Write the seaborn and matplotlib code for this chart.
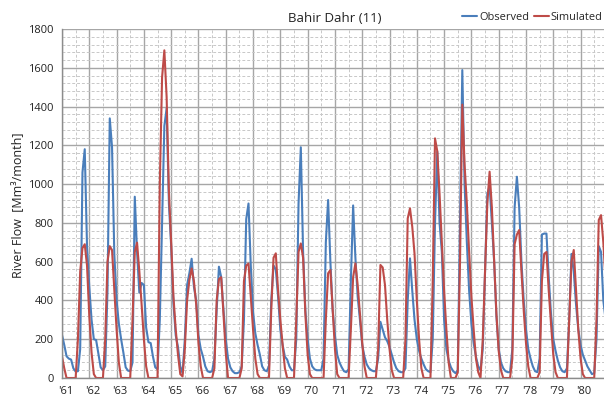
import numpy as np
import pandas as pd
import matplotlib
matplotlib.use("Agg")
import matplotlib.pyplot as plt
import seaborn as sns
from matplotlib.ticker import MultipleLocator, FixedLocator, FixedFormatter
from matplotlib.transforms import ScaledTranslation

# ---------------- data (monthly, Jan 1961 onwards) ----------------
year_labels = ["'%d" % y for y in range(61, 81)]

observed = [
    222, 170, 112, 100, 95, 50, 33, 35, 150, 1060, 1180, 680,     # 1961
    470, 300, 200, 196, 127, 55, 40, 60, 450, 1339, 1190, 640,    # 1962
    400, 280, 200, 130, 55, 38, 35, 80, 935, 650, 440, 490,       # 1963
    480, 260, 185, 180, 110, 55, 45, 300, 800, 1300, 1390, 900,   # 1964
    680, 385, 220, 160, 60, 25, 200, 480, 540, 615, 470, 400,     # 1965
    220, 150, 110, 60, 35, 30, 35, 100, 350, 574, 520, 350,       # 1966
    200, 100, 55, 35, 25, 25, 30, 60, 300, 820, 900, 580,         # 1967
    340, 230, 170, 120, 60, 40, 35, 60, 400, 580, 560, 420,       # 1968
    250, 170, 110, 95, 60, 40, 40, 200, 900, 1190, 650, 350,      # 1969
    200, 100, 60, 45, 40, 40, 40, 100, 700, 918, 600, 350,        # 1970
    220, 120, 80, 55, 35, 30, 45, 500, 890, 620, 420, 300,        # 1971
    170, 110, 70, 50, 40, 35, 35, 100, 290, 250, 210, 190,        # 1972
    160, 120, 80, 50, 35, 30, 30, 50, 400, 617, 450, 300,         # 1973
    200, 140, 100, 70, 45, 35, 30, 200, 800, 1167, 800, 650,      # 1974
    300, 150, 90, 55, 35, 25, 40, 800, 1588, 1000, 700, 450,      # 1975
    280, 180, 110, 60, 40, 150, 550, 950, 990, 800, 600, 320,     # 1976
    150, 80, 50, 35, 30, 30, 150, 880, 1038, 880, 600, 400,       # 1977
    250, 150, 100, 60, 35, 30, 100, 740, 745, 745, 520, 330,      # 1978
    200, 140, 90, 55, 35, 30, 50, 300, 640, 550, 380, 250,        # 1979
    170, 120, 90, 60, 40, 20, 25, 200, 680, 650, 400, 300,        # 1980
]

simulated = [
    112, 50, 0, 0, 0, 0, 0, 200, 550, 670, 690, 580,              # 1961
    320, 130, 20, 0, 0, 0, 0, 200, 600, 680, 660, 450,            # 1962
    250, 80, 0, 0, 0, 0, 0, 300, 650, 698, 550, 380,              # 1963
    200, 60, 0, 0, 0, 0, 0, 1000, 1550, 1690, 1450, 960,          # 1964
    700, 420, 250, 120, 20, 8, 150, 400, 505, 565, 500, 380,      # 1965
    180, 60, 0, 0, 0, 0, 0, 50, 400, 510, 520, 330,               # 1966
    130, 0, 0, 0, 0, 0, 0, 50, 500, 580, 590, 420,                # 1967
    250, 100, 20, 0, 0, 0, 0, 0, 350, 620, 643, 450,              # 1968
    300, 170, 50, 0, 0, 0, 0, 300, 650, 694, 620, 330,            # 1969
    120, 20, 0, 0, 0, 0, 0, 0, 300, 540, 557, 350,                # 1970
    150, 20, 0, 0, 0, 0, 0, 250, 520, 591, 480, 330,              # 1971
    180, 60, 0, 0, 0, 0, 0, 150, 583, 570, 480, 300,              # 1972
    150, 40, 0, 0, 0, 0, 0, 200, 823, 875, 780, 640,              # 1973
    400, 200, 50, 0, 0, 0, 0, 500, 1236, 1170, 950, 700,          # 1974
    450, 250, 80, 0, 0, 0, 30, 600, 1410, 1100, 900, 650,         # 1975
    420, 250, 100, 30, 0, 200, 550, 900, 1064, 880, 600, 330,     # 1976
    140, 40, 0, 0, 0, 0, 100, 690, 740, 763, 550, 350,            # 1977
    180, 60, 0, 0, 0, 0, 30, 500, 640, 650, 450, 280,             # 1978
    120, 30, 0, 0, 0, 0, 0, 300, 600, 660, 450, 250,              # 1979
    100, 20, 0, 0, 0, 0, 0, 300, 815, 840, 700, 500,              # 1980
]

series_names = ["Observed", "Simulated"]
series_colors = {"Observed": "#4A7EBB", "Simulated": "#BE4B48"}

months = np.arange(len(observed))
df = pd.DataFrame({
    "month": np.concatenate([months, np.arange(len(simulated))]),
    "flow": observed + simulated,
    "series": ["Observed"] * len(observed) + ["Simulated"] * len(simulated),
})

# ---------------- figure ----------------
sns.set_style("white")
plt.rcParams["font.family"] = ["Open Sans", "DejaVu Sans"]

W, H = 604, 398
fig = plt.figure(figsize=(W / 100, H / 100), dpi=100)
ax = fig.add_axes([62 / W, 1 - 378 / H, (604 - 62) / W, (378 - 29) / H])

sns.lineplot(data=df, x="month", y="flow", hue="series", hue_order=series_names,
             palette=series_colors, linewidth=1.5, ax=ax, legend=True)

ax.set_xlim(0, 238.3)
ax.set_ylim(0, 1800)

ax.xaxis.set_major_locator(FixedLocator(np.arange(0, 12 * len(year_labels), 12)))
ax.xaxis.set_major_formatter(FixedFormatter(year_labels))
ax.xaxis.set_minor_locator(MultipleLocator(6))
ax.yaxis.set_major_locator(MultipleLocator(200))
ax.yaxis.set_minor_locator(MultipleLocator(40))

ax.set_axisbelow(True)
ax.grid(which="major", color="#a6a6a6", linewidth=1.0, linestyle="-")
ax.grid(which="minor", color="#c8c8c8", linewidth=0.7, linestyle=(0, (3, 2)))

for s in ["top", "right"]:
    ax.spines[s].set_visible(False)
for s in ["left", "bottom"]:
    ax.spines[s].set_color("#8c8c8c")
    ax.spines[s].set_linewidth(1.0)

ax.tick_params(which="major", length=4, color="#8c8c8c", width=1.0,
               labelsize=8, labelcolor="#222222", direction="out", pad=2)
ax.tick_params(which="minor", length=0)
ax.set_xlabel("")
ax.set_ylabel("")

offset = ScaledTranslation(3.5 / 100, 0, fig.dpi_scale_trans)
for lab in ax.get_xticklabels():
    lab.set_transform(lab.get_transform() + offset)

handles, labels = ax.get_legend_handles_labels()
ax.legend(handles, labels, loc="upper left", bbox_to_anchor=(462 / W, 1 - 12 / H),
          bbox_transform=fig.transFigure, ncol=2, frameon=False, fontsize=7.9,
          handlelength=1.4, handletextpad=0.15, columnspacing=0.45,
          borderaxespad=0, borderpad=0)

fig.text(335 / W, 1 - 18 / H, "Bahir Dahr (11)", ha="center", va="center",
         fontsize=9.5, color="#222222")
fig.text(18 / W, 1 - 205 / H, "River Flow  [Mm³/month]", rotation=90,
         ha="center", va="center", fontsize=9, color="#222222")

fig.savefig("out.png", dpi=100)
